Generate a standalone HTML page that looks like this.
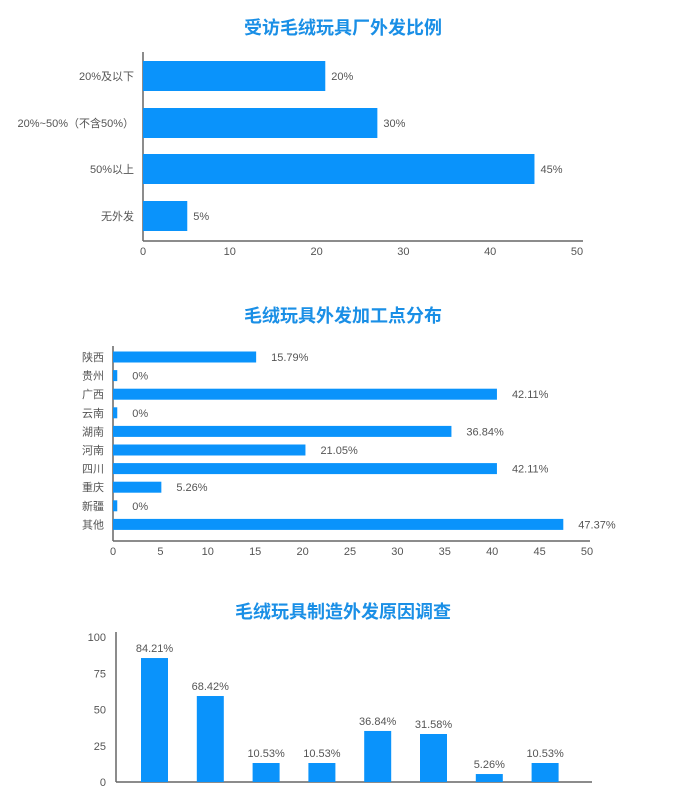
<!DOCTYPE html>
<html><head><meta charset="utf-8">
<style>
body{margin:0;background:#fff;width:687px;height:790px;overflow:hidden;font-family:"Liberation Sans","Noto Sans CJK SC",sans-serif}
svg text{font-family:"Liberation Sans","Noto Sans CJK SC",sans-serif}
</style></head><body>
<svg id="c" width="687" height="790">
<text x="343" y="34" text-anchor="middle" font-size="18" font-weight="bold" fill="#1a8fe6">受访毛绒玩具厂外发比例</text>
<text x="343" y="322" text-anchor="middle" font-size="18" font-weight="bold" fill="#1a8fe6">毛绒玩具外发加工点分布</text>
<text x="343" y="618" text-anchor="middle" font-size="18" font-weight="bold" fill="#1a8fe6">毛绒玩具制造外发原因调查</text>
</svg>
<script>
const c1Cats=["20%及以下","20%~50%（不含50%）","50%以上","无外发"];
const c1Vals=[21,27,45.1,5.1];
const c1Labels=["20%","30%","45%","5%"];
const c1Ticks=[0,10,20,30,40,50];
const c2Cats=["陕西","贵州","广西","云南","湖南","河南","四川","重庆","新疆","其他"];
const c2Vals=[15.1,0.45,40.5,0.45,35.7,20.3,40.5,5.1,0.45,47.5];
const c2Labels=["15.79%","0%","42.11%","0%","36.84%","21.05%","42.11%","5.26%","0%","47.37%"];
const c2Ticks=[0,5,10,15,20,25,30,35,40,45,50];
const c3Vals=[85.5,59.3,13.1,13.1,35.2,33.1,5.5,13.1];
const c3Labels=["84.21%","68.42%","10.53%","10.53%","36.84%","31.58%","5.26%","10.53%"];
const c3Ticks=[0,25,50,75,100];
const svg=document.getElementById('c');
const NS='http://www.w3.org/2000/svg';
const BLUE='#0a93fb',TXT='#555';
function mk(t,a,txt){const e=document.createElementNS(NS,t);for(const k in a)e.setAttribute(k,a[k]);if(txt!==undefined)e.textContent=txt;svg.appendChild(e);return e;}
// chart1
(function(){
 const x=v=>143+v*(577-143)/50;
 const rowY=[76,123,169,216],bh=30;
 let e=mk('line',{x1:143,y1:32+20,x2:143,y2:241,stroke:'#666','stroke-width':1.5});
 
 e=mk('line',{x1:143,y1:241,x2:583,y2:241,stroke:'#666','stroke-width':1.5});
 
 c1Ticks.forEach(t=>{e=mk('text',{x:x(t),y:255,'text-anchor':'middle','font-size':11,fill:TXT},t);
  });
 c1Cats.forEach((cat,i)=>{
  e=mk('text',{x:134,y:rowY[i]+4,'text-anchor':'end','font-size':11,fill:TXT},cat);
  
  e=mk('rect',{x:143,y:rowY[i]-bh/2,width:x(c1Vals[i])-143,height:bh,fill:BLUE});
  
  e=mk('text',{x:x(c1Vals[i])+6,y:rowY[i]+4,'font-size':11,fill:TXT},c1Labels[i]);
  
 });
})();
// chart2
(function(){
 const x=v=>113+v*(587-113)/50;
 const y0=357,step=18.6,bh=11;
 let e=mk('line',{x1:113,y1:346,x2:113,y2:541,stroke:'#666','stroke-width':1.5});
 
 e=mk('line',{x1:113,y1:541,x2:590,y2:541,stroke:'#666','stroke-width':1.5});
 
 c2Ticks.forEach(t=>{e=mk('text',{x:x(t),y:555,'text-anchor':'middle','font-size':11,fill:TXT},t);
  });
 c2Cats.forEach((cat,i)=>{
  const cy=y0+i*step;
  e=mk('text',{x:104,y:cy+4,'text-anchor':'end','font-size':11,fill:TXT},cat);
  
  e=mk('rect',{x:113,y:cy-bh/2,width:x(c2Vals[i])-113,height:bh,fill:BLUE});
  
  e=mk('text',{x:x(c2Vals[i])+15,y:cy+4,'font-size':11,fill:TXT},c2Labels[i]);
  
 });
})();
// chart3
(function(){
 const y=v=>782-v*(782-637)/100;
 const cx0=154.5,step=55.8,bw=27;
 let e=mk('line',{x1:116,y1:632,x2:116,y2:782,stroke:'#666','stroke-width':1.5});
 
 e=mk('line',{x1:116,y1:782,x2:592,y2:782,stroke:'#666','stroke-width':1.5});
 
 c3Ticks.forEach(t=>{e=mk('text',{x:106,y:y(t)+4,'text-anchor':'end','font-size':11,fill:TXT},t);
  });
 c3Vals.forEach((v,i)=>{
  const cx=cx0+i*step;
  e=mk('rect',{x:cx-bw/2,y:y(v),width:bw,height:782-y(v),fill:BLUE});
  
  e=mk('text',{x:cx,y:y(v)-6,'text-anchor':'middle','font-size':11,fill:TXT},c3Labels[i]);
  
 });
})();
</script>
</body></html>
